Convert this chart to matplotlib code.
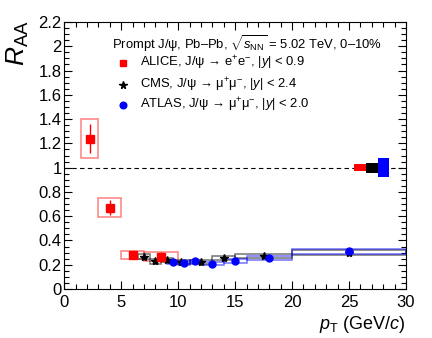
import matplotlib
matplotlib.use("Agg")
import matplotlib.pyplot as plt
import matplotlib.ticker as ticker
import numpy as np

plt.rcParams['font.family'] = ['Liberation Sans', 'DejaVu Sans']
plt.rcParams['mathtext.fontset'] = 'custom'
plt.rcParams['mathtext.rm'] = 'Liberation Sans'
plt.rcParams['mathtext.it'] = 'Liberation Sans:italic'
plt.rcParams['mathtext.sf'] = 'Liberation Sans'

# ALICE, J/psi -> ee, |y|<0.9
alice_pt = [2.25, 4.0, 6.0, 8.5]
alice_lo = [1.5, 3.0, 5.0, 7.0]
alice_hi = [3.0, 5.0, 7.0, 10.0]
alice_raa = [1.24, 0.67, 0.28, 0.265]
alice_stat = [0.12, 0.06, 0.02, 0.04]
alice_sys = [0.16, 0.08, 0.03, 0.037]

# CMS, J/psi -> mumu, |y|<2.4
cms_pt = [7.0, 8.0, 9.0, 10.25, 12.0, 14.0, 17.5, 25.0]
cms_lo = [6.5, 7.5, 8.5, 9.5, 11.0, 13.0, 15.0, 20.0]
cms_hi = [7.5, 8.5, 9.5, 11.0, 13.0, 15.0, 20.0, 30.0]
cms_raa = [0.266, 0.227, 0.24, 0.225, 0.223, 0.254, 0.272, 0.30]
cms_stat = [0.01, 0.008, 0.008, 0.007, 0.007, 0.008, 0.008, 0.012]
cms_sys = [0.022, 0.018, 0.018, 0.017, 0.017, 0.019, 0.02, 0.022]

# ATLAS, J/psi -> mumu, |y|<2.0
atlas_pt = [9.5, 10.5, 11.5, 13.0, 15.0, 18.0, 25.0]
atlas_lo = [9.0, 10.0, 11.0, 12.0, 14.0, 16.0, 20.0]
atlas_hi = [10.0, 11.0, 12.0, 14.0, 16.0, 20.0, 30.0]
atlas_raa = [0.22, 0.214, 0.228, 0.207, 0.232, 0.255, 0.31]
atlas_stat = [0.006, 0.006, 0.006, 0.006, 0.007, 0.008, 0.02]
atlas_sys = [0.013, 0.013, 0.013, 0.012, 0.014, 0.015, 0.018]

# global normalisation uncertainties (drawn at RAA = 1)
glob_lo = [25.4, 26.5, 27.5]
glob_hi = [26.5, 27.5, 28.5]
glob_unc = [0.027, 0.042, 0.08]
glob_col = ['#ff0000', '#000000', '#0000ff']

fig = plt.figure(figsize=(4.32, 3.38), dpi=100)
ax = fig.add_axes([64.3 / 432, 49 / 338, 341.7 / 432, 267 / 338])

ax.axhline(1.0, color='black', ls=(0, (4, 3)), lw=0.8, zorder=1)

def sys_boxes(lo, hi, y, s, col, alpha):
    lo = np.array(lo); hi = np.array(hi); y = np.array(y); s = np.array(s)
    ax.bar(lo, 2 * s, width=hi - lo, bottom=y - s, align='edge', fill=False,
           edgecolor=col, linewidth=1.1, alpha=alpha, zorder=2)

sys_boxes(alice_lo, alice_hi, alice_raa, alice_sys, '#ff0000', 0.5)
sys_boxes(cms_lo, cms_hi, cms_raa, cms_sys, '#000000', 0.55)
sys_boxes(atlas_lo, atlas_hi, atlas_raa, atlas_sys, '#0000ff', 0.55)

ax.bar(glob_lo, 2 * np.array(glob_unc), width=np.array(glob_hi) - np.array(glob_lo),
       bottom=1 - np.array(glob_unc), align='edge', color=glob_col,
       linewidth=0, zorder=3)

ax.errorbar(cms_pt, cms_raa, yerr=cms_stat, fmt='*', color='black', ms=6,
            elinewidth=1, capsize=0, zorder=4)
ax.errorbar(atlas_pt, atlas_raa, yerr=atlas_stat, fmt='o', color='#0000ff',
            ms=5, elinewidth=1, capsize=0, zorder=5)
ax.errorbar(alice_pt, alice_raa, yerr=alice_stat, fmt='s', color='#ff0000',
            ms=5.2, elinewidth=1, capsize=0, zorder=6)

ax.set_xlim(0, 30)
ax.set_ylim(0, 2.2)
ax.xaxis.set_major_locator(ticker.MultipleLocator(5))
ax.xaxis.set_minor_locator(ticker.MultipleLocator(1))
ax.yaxis.set_major_locator(ticker.MultipleLocator(0.2))
ax.yaxis.set_minor_locator(ticker.MultipleLocator(0.05))
ax.yaxis.set_major_formatter(ticker.FuncFormatter(
    lambda v, p: f'{v:.1f}'.rstrip('0').rstrip('.') if abs(v) > 1e-9 else '0'))
ax.tick_params(which='both', direction='in', top=True, right=True, labelsize=12, width=0.8)
ax.tick_params(which='major', length=6)
ax.tick_params(which='minor', length=3.5)
ax.tick_params(axis='x', pad=4)
ax.tick_params(axis='y', pad=2)
for sp in ax.spines.values():
    sp.set_linewidth(0.8)

ax.text(-0.135, 1.005, r'$R_{\rm AA}$', rotation=90, ha='center', va='top',
        fontsize=19, transform=ax.transAxes)
ax.text(1.0, -0.095, r'$p_{\rm T}$ (GeV/$c$)', ha='right', va='top',
        fontsize=13, transform=ax.transAxes)

# legend
ax.text(0.139, 0.918, r'Prompt J/ψ, Pb–Pb, $\sqrt{s_{\rm NN}}$ = 5.02 TeV, 0–10%',
        ha='left', va='center', fontsize=9.4, transform=ax.transAxes)
leg_y = [0.845, 0.764, 0.689]
leg_mk = [('s', '#ff0000', 5), ('*', 'black', 5.5), ('o', '#0000ff', 4.8)]
leg_txt = [r'ALICE, J/ψ → e$^{+}$e$^{-}$, |$y$| < 0.9',
           r'CMS, J/ψ → μ$^{+}$μ$^{-}$, |$y$| < 2.4',
           r'ATLAS, J/ψ → μ$^{+}$μ$^{-}$, |$y$| < 2.0']
for yy, (m, c, s), t in zip(leg_y, leg_mk, leg_txt):
    ax.plot([0.173], [yy], marker=m, color=c, ms=s, ls='none', transform=ax.transAxes)
    ax.text(0.221, yy, t, ha='left', va='center', fontsize=9.4, transform=ax.transAxes)

fig.savefig('out.png', dpi=100)
